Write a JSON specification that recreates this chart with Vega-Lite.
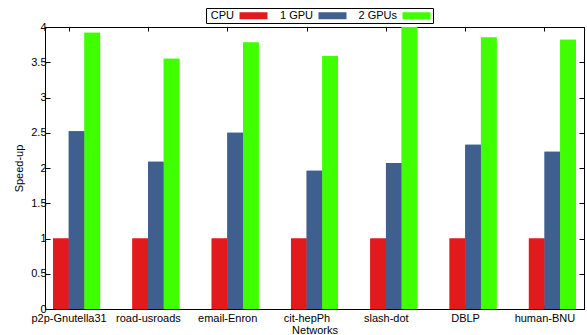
{
  "$schema": "https://vega.github.io/schema/vega-lite/v6.json",
  "width": 539,
  "height": 282,
  "autosize": {"type": "none"},
  "padding": {"left": 45, "top": 27, "right": 3, "bottom": 26},
  "data": {
    "values": [
      {"network": "p2p-Gnutella31", "config": "CPU", "speedup": 1},
      {"network": "p2p-Gnutella31", "config": "1 GPU", "speedup": 2.52},
      {"network": "p2p-Gnutella31", "config": "2 GPUs", "speedup": 3.92},
      {"network": "road-usroads", "config": "CPU", "speedup": 1},
      {"network": "road-usroads", "config": "1 GPU", "speedup": 2.09},
      {"network": "road-usroads", "config": "2 GPUs", "speedup": 3.55},
      {"network": "email-Enron", "config": "CPU", "speedup": 1},
      {"network": "email-Enron", "config": "1 GPU", "speedup": 2.5},
      {"network": "email-Enron", "config": "2 GPUs", "speedup": 3.78},
      {"network": "cit-hepPh", "config": "CPU", "speedup": 1},
      {"network": "cit-hepPh", "config": "1 GPU", "speedup": 1.96},
      {"network": "cit-hepPh", "config": "2 GPUs", "speedup": 3.59},
      {"network": "slash-dot", "config": "CPU", "speedup": 1},
      {"network": "slash-dot", "config": "1 GPU", "speedup": 2.07},
      {"network": "slash-dot", "config": "2 GPUs", "speedup": 4.0},
      {"network": "DBLP", "config": "CPU", "speedup": 1},
      {"network": "DBLP", "config": "1 GPU", "speedup": 2.33},
      {"network": "DBLP", "config": "2 GPUs", "speedup": 3.85},
      {"network": "human-BNU", "config": "CPU", "speedup": 1},
      {"network": "human-BNU", "config": "1 GPU", "speedup": 2.23},
      {"network": "human-BNU", "config": "2 GPUs", "speedup": 3.82}
    ]
  },
  "layer": [
    {
      "mark": {"type": "bar"},
      "encoding": {
        "x": {
          "field": "network", "type": "nominal", "sort": null,
          "scale": {"paddingInner": 0.407, "paddingOuter": 0.102},
          "axis": {"orient": "bottom", "title": "Networks", "labelAngle": 0, "tickSize": -4, "tickOffset": -8, "labelPadding": 7, "titlePadding": 1, "domain": true}
        },
        "xOffset": {"field": "config", "type": "nominal", "sort": ["CPU", "1 GPU", "2 GPUs"], "scale": {"paddingInner": 0, "paddingOuter": 0}},
        "y": {
          "field": "speedup", "type": "quantitative",
          "scale": {"domain": [0, 4], "nice": false},
          "axis": {"orient": "left", "title": "Speed-up", "values": [0, 0.5, 1, 1.5, 2, 2.5, 3, 3.5, 4], "format": "~g", "tickSize": -5, "labelPadding": 4, "titlePadding": 6}
        },
        "color": {
          "field": "config", "type": "nominal",
          "scale": {"domain": ["CPU", "1 GPU", "2 GPUs"], "range": ["#e31a1c", "#3f5f8f", "#40ff00"]},
          "legend": {
            "orient": "none", "legendX": 161, "legendY": -19,
            "direction": "horizontal", "columns": 3, "title": null,
            "symbolType": "M-4,-1H4V1H-4Z", "symbolSize": 49,
            "symbolStrokeWidth": 0, "symbolOpacity": 1,
            "labelFontSize": 11, "labelAlign": "right",
            "symbolOffset": 40, "labelOffset": -25,
            "strokeColor": "black", "padding": 2, "columnPadding": 11
          }
        }
      }
    },
    {
      "mark": {"type": "bar"},
      "encoding": {
        "x": {
          "field": "network", "type": "nominal", "sort": null,
          "axis": {"orient": "top", "title": null, "labels": false, "tickSize": -4, "tickOffset": -8}
        },
        "xOffset": {"field": "config", "type": "nominal", "sort": ["CPU", "1 GPU", "2 GPUs"]},
        "y": {
          "field": "speedup", "type": "quantitative",
          "axis": {"orient": "right", "title": null, "labels": false, "values": [0, 0.5, 1, 1.5, 2, 2.5, 3, 3.5, 4], "tickSize": -5}
        },
        "color": {"field": "config", "type": "nominal", "legend": null}
      }
    }
  ],
  "resolve": {"axis": {"x": "independent", "y": "independent"}},
  "config": {
    "font": "Liberation Sans",
    "view": {"stroke": "black", "strokeWidth": 1},
    "axis": {
      "grid": false, "domainColor": "black", "tickColor": "black",
      "labelColor": "black", "titleColor": "black",
      "labelFontSize": 11, "titleFontSize": 11, "titleFontWeight": "normal"
    },
    "legend": {"labelColor": "black"}
  }
}
